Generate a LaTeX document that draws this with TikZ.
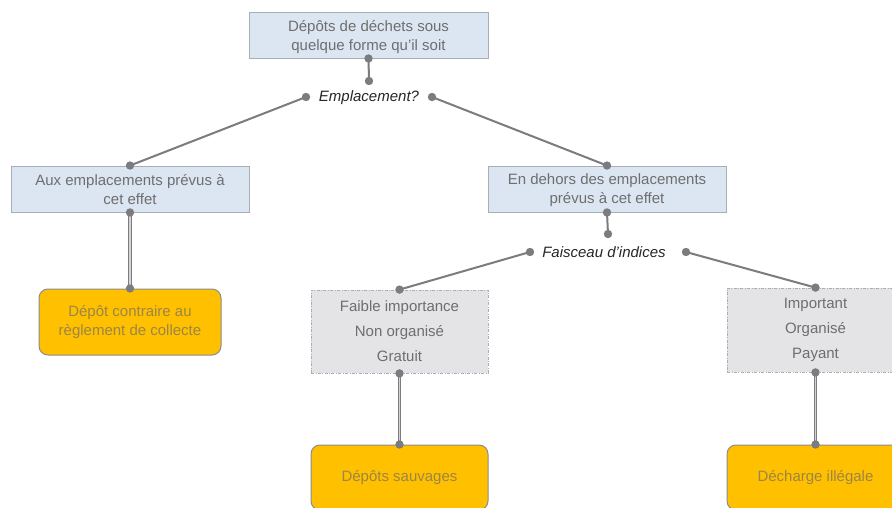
\documentclass[tikz,border=0pt]{standalone}
\usepackage{fontspec}
\setmainfont{Liberation Sans}
\begin{document}
\begin{tikzpicture}[x=1pt,y=-1pt,
  bluebox/.style={draw=boxline,fill=boxblue,line width=0.9pt,text=txtgray,align=center,
    font=\fontsize{15}{19}\selectfont,inner sep=0pt,text depth=0pt},
  greybox/.style={draw=boxline,fill=boxgrey,line width=0.8pt,dash pattern=on 3pt off 1.5pt on 0.8pt off 1.5pt,
    text=txtgray,align=center,font=\fontsize{15}{25}\selectfont,inner sep=0pt},
  orangebox/.style={draw=orline,fill=boxorange,line width=1pt,rounded corners=9pt,text=ortext,align=center,
    font=\fontsize{15}{19}\selectfont,inner sep=0pt},
  qlabel/.style={text=black!85,font=\fontsize{15}{19}\selectfont\itshape,inner sep=0pt},
  conn/.style={draw=connc,line width=2pt},
  dconn/.style={draw=connc,line width=1.1pt,double=dbl,double distance=1.6pt},
  dotc/.style={fill=connc,draw=none}]
\definecolor{boxline}{HTML}{A7AEB6}
\definecolor{boxblue}{HTML}{DCE6F2}
\definecolor{boxgrey}{HTML}{E4E4E6}
\definecolor{boxorange}{HTML}{FFC000}
\definecolor{orline}{HTML}{8C8C8C}
\definecolor{ortext}{HTML}{9C8548}
\definecolor{txtgray}{HTML}{6E6E6E}
\definecolor{connc}{HTML}{7C7C80}
\definecolor{dbl}{HTML}{D4D4D6}
\useasboundingbox (0,0) rectangle (892,508);
\clip (0,0) rectangle (892,508);
\fill[white] (0,0) rectangle (892,508);

% boxes
\node[bluebox,minimum width=239pt,minimum height=46pt] (top) at (368.5,35) {Dépôts de déchets sous\\quelque forme qu’il soit};
\node[bluebox,minimum width=238pt,minimum height=46pt] (left) at (130,189) {Aux emplacements prévus à\\cet effet};
\node[bluebox,minimum width=238pt,minimum height=46pt] (right) at (607,189) {En dehors des emplacements\\prévus à cet effet};

\node[qlabel] (q1) at (369,97.5) {Emplacement?};
\coordinate (q1n) at (369,81);
\coordinate (q1w) at (306,97);
\coordinate (q1e) at (432,97);

\node[qlabel] (q2) at (604,252.5) {Faisceau d’indices};
\coordinate (q2n) at (608,234);
\coordinate (q2w) at (530,252);
\coordinate (q2e) at (686,252);

\node[orangebox,minimum width=182pt,minimum height=66pt] (o1) at (130,322) {Dépôt contraire au\\règlement de collecte};
\node[greybox,minimum width=177pt,minimum height=83pt] (g1) at (399.5,331.5) {Faible importance\\Non organisé\\Gratuit};
\node[greybox,minimum width=177pt,minimum height=84pt] (g2) at (815.5,330) {Important\\Organisé\\Payant};
\node[orangebox,minimum width=177pt,minimum height=65pt] (o2) at (399.5,477.5) {Dépôts sauvages};
\node[orangebox,minimum width=177pt,minimum height=65pt] (o3) at (815.5,477.5) {Décharge illégale};

% connectors
\draw[conn] (top.south) -- (q1n);
\draw[conn] (q1w) -- (left.north);
\draw[conn] (q1e) -- (right.north);
\draw[dconn] (left.south) -- (o1.north);
\draw[conn] (right.south) -- (q2n);
\draw[conn] (q2w) -- (g1.north);
\draw[conn] (q2e) -- (g2.north);
\draw[dconn] (g1.south) -- (o2.north);
\draw[dconn] (g2.south) -- (o3.north);

% dots
\foreach \p in {top.south,q1n,q1w,q1e,left.north,right.north,left.south,o1.north,right.south,q2n,q2w,q2e,g1.north,g2.north,g1.south,o2.north,g2.south,o3.north}
  \fill[dotc] (\p) circle (4.2pt);
\end{tikzpicture}
\end{document}
